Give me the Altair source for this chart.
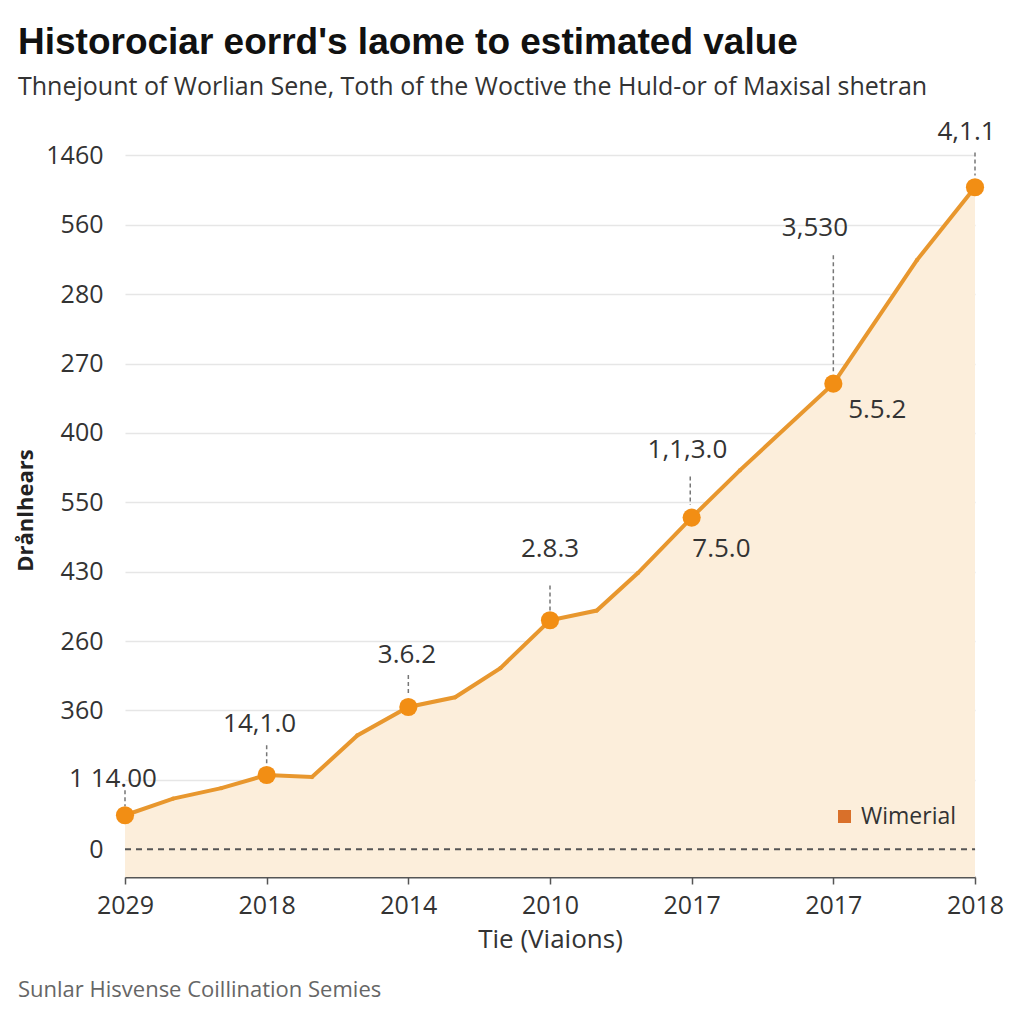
import altair as alt
import pandas as pd

# ---- data ----
x_tick_labels = ["2029", "2018", "2014", "2010", "2017", "2017", "2018"]
y_tick_labels = ["0", "", "360", "260", "430", "550", "400", "270", "280", "560", "1460"]

line_x = [0, 0.34, 0.68, 1.0, 1.32, 1.64, 2.0, 2.33, 2.65, 3.0, 3.33, 3.62, 4.0, 4.34, 5.0, 5.59, 6.0]
line_y = [0.49, 0.73, 0.88, 1.07, 1.04, 1.64, 2.05, 2.19, 2.61, 3.30, 3.44, 3.98, 4.78, 5.46, 6.71, 8.49, 9.54]

big_x = [0, 1, 2, 3, 4, 5, 6]
big_y = [0.49, 1.07, 2.05, 3.30, 4.78, 6.71, 9.54]

ann_text = ["1 14.00", "14,1.0", "3.6.2", "2.8.3", "1,1,3.0", "7.5.0", "3,530", "5.5.2", "4,1.1"]
ann_x = [-0.085, 0.95, 1.99, 3.0, 3.97, 4.21, 4.87, 5.31, 5.94]
ann_y = [1.01, 1.80, 2.80, 4.32, 5.76, 4.32, 8.96, 6.33, 10.33]

lead_x = [0, 1.0, 2.0, 3.0, 3.99, 5.0, 6.0]
lead_y1 = [0.85, 1.50, 2.51, 3.80, 5.37, 8.56, 10.04]
lead_y2 = [0.62, 1.24, 2.22, 3.44, 4.96, 6.87, 9.71]

series_name = "Wimerial"
title_text = "Historociar eorrd's laome to estimated value"
subtitle_text = "Thnejount of Worlian Sene, Toth of the Woctive the Huld-or of Maxisal shetran"
y_title = "Drånlhears"
x_title = "Tie (Viaions)"
footer_text = "Sunlar Hisvense  Coillination Semies"

# ---- tables ----
line_df = pd.DataFrame({"x": line_x, "y": line_y, "series": series_name})
big_df = pd.DataFrame({"x": big_x, "y": big_y})
ann_df = pd.DataFrame({"x": ann_x, "y": ann_y, "t": ann_text})
lead_df = pd.DataFrame({"x": lead_x, "y1": lead_y1, "y2": lead_y2})
zero_df = pd.DataFrame({"x": [0], "x2": [6], "y": [0]})

FONT = "Open Sans"
TITLE_FONT = "Liberation Sans Narrow, Arial Narrow, Liberation Sans, sans-serif"
ORANGE_LINE = "#E8972E"
ORANGE_DOT = "#F28E14"
FILL = "#FCEEDB"

x_scale = alt.Scale(domain=[0, 6], nice=False, zero=False)
y_scale = alt.Scale(domain=[-0.4, 10.25], nice=False, zero=False)

x_lab_expr = "[" + ",".join("'%s'" % s for s in x_tick_labels) + "][datum.value]"
y_lab_expr = "[" + ",".join("'%s'" % s for s in y_tick_labels) + "][datum.value]"

x_enc = alt.X("x:Q", scale=x_scale, axis=alt.Axis(
    values=list(range(7)), labelExpr=x_lab_expr, grid=False, labelFlush=False,
    domainColor="#555", domainWidth=2, tickColor="#555", tickSize=7, tickWidth=1.5,
    labelPadding=9, labelFontSize=25, labelFont=FONT, labelColor="#333",
    title=x_title, titleFont=FONT, titleFontSize=26, titleFontWeight="normal",
    titleColor="#333", titlePadding=8))

y_enc = alt.Y("y:Q", scale=y_scale, axis=alt.Axis(
    values=list(range(11)), labelExpr=y_lab_expr, grid=True, gridColor="#e6e6e6",
    gridWidth=1.5, domain=False, ticks=False, labelPadding=22, labelFontSize=25,
    labelFont=FONT, labelColor="#333", labelFlush=False,
    title=y_title, titleFont=FONT, titleFontSize=22, titleFontWeight="bold",
    titleColor="#222", titleAngle=-90, titleX=-100, titleY=372,
    titleAlign="center", titleBaseline="middle"))

area = alt.Chart(line_df).mark_area(color=FILL, opacity=1).encode(
    x=x_enc, y=y_enc, y2=alt.datum(-0.4))

zero_line = alt.Chart(zero_df).mark_rule(color="#555", strokeWidth=2, strokeDash=[6, 5]).encode(
    x=alt.X("x:Q", scale=x_scale), x2="x2:Q", y=alt.Y("y:Q", scale=y_scale))

line = alt.Chart(line_df).mark_line(strokeWidth=4).encode(
    x=alt.X("x:Q", scale=x_scale), y=alt.Y("y:Q", scale=y_scale),
    color=alt.Color("series:N", scale=alt.Scale(range=[ORANGE_LINE]),
                    legend=alt.Legend(orient="none", legendX=708, legendY=667, title=None,
                                      symbolType="square", symbolSize=170,
                                      symbolStrokeWidth=0, symbolFillColor="#D9702A",
                                      labelFont=FONT, labelFontSize=23, labelColor="#333",
                                      labelOffset=5)))

small_pts = alt.Chart(line_df).mark_point(filled=True, size=18, color=ORANGE_LINE, opacity=1).encode(
    x=alt.X("x:Q", scale=x_scale), y=alt.Y("y:Q", scale=y_scale))

leaders = alt.Chart(lead_df).mark_rule(color="#777", strokeWidth=1.5, strokeDash=[4, 3]).encode(
    x=alt.X("x:Q", scale=x_scale), y=alt.Y("y1:Q", scale=y_scale), y2="y2:Q")

dots = alt.Chart(big_df).mark_circle(size=330, color=ORANGE_DOT, opacity=1).encode(
    x=alt.X("x:Q", scale=x_scale), y=alt.Y("y:Q", scale=y_scale))

labels = alt.Chart(ann_df).mark_text(font=FONT, fontSize=26, color="#333",
                                     align="center", baseline="middle").encode(
    x=alt.X("x:Q", scale=x_scale), y=alt.Y("y:Q", scale=y_scale), text="t:N")

footer = alt.Chart(pd.DataFrame({"t": [footer_text]})).mark_text(
    font=FONT, fontSize=22, color="#666", align="left", baseline="middle").encode(
    x=alt.value(-107), y=alt.value(852), text="t:N")

chart = alt.layer(area, zero_line, line, small_pts, leaders, dots, labels, footer).properties(
    width=850, height=739,
    autosize=alt.AutoSizeParams(type="none"),
    padding={"left": 117, "top": 130, "right": 41, "bottom": 139},
    background="white",
    title=alt.TitleParams(text=title_text, subtitle=subtitle_text, anchor="start",
                          frame="group", dx=-107, offset=18, font=TITLE_FONT, fontSize=37,
                          fontWeight="bold", color="#111", subtitleFont=FONT,
                          subtitleFontSize=25, subtitleColor="#333", subtitlePadding=13)
).configure_view(stroke=None)

chart.save("out.html", embed_options={"renderer": "svg", "actions": False})
